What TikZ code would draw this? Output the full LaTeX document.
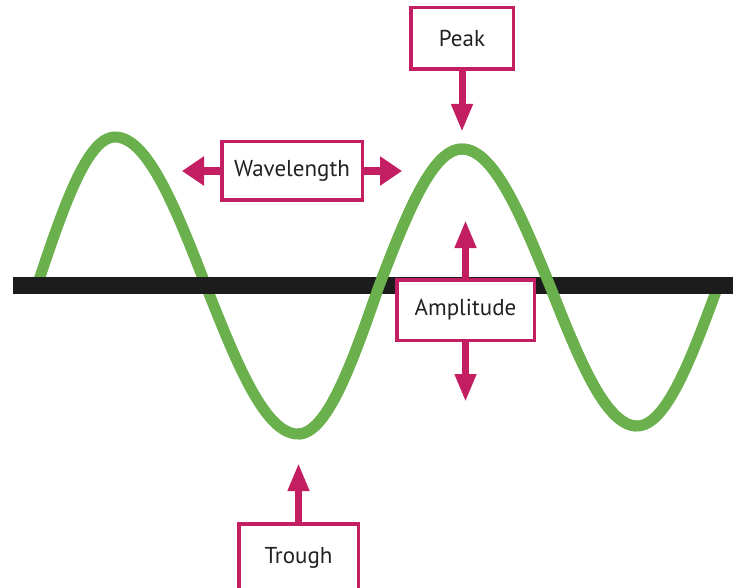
\documentclass[tikz,border=0pt]{standalone}
\usepackage{fontspec}
\setmainfont{PT Sans}
\usetikzlibrary{arrows.meta}
\definecolor{wgreen}{RGB}{106,176,76}
\definecolor{mag}{RGB}{196,30,98}
\definecolor{barblack}{RGB}{28,28,28}
\definecolor{txt}{RGB}{34,34,34}
\begin{document}
\begin{tikzpicture}[x=1pt,y=-1pt,
  lbl/.style={draw=mag, line width=3.5pt, fill=white, rectangle, inner sep=0pt,
    font=\fontsize{23}{26}\selectfont, text=txt},
  varrow/.style={draw=mag, line width=7pt, -{Triangle[length=28pt,width=20pt]}},
  harrow/.style={draw=mag, line width=8pt, -{Triangle[length=22pt,width=28pt]}},
  wave/.style={draw=wgreen, line width=11pt, line join=round}]
\useasboundingbox (0,0) rectangle (733,588);
\clip (0,0) rectangle (733,588);
% wave (full), built from quarter waves
\draw[wave] plot[domain=0:90, samples=30] ({37+\x/90*78},{286-149*sin(\x)})
  -- plot[domain=90:180, samples=30] ({115+(\x-90)/90*91},{286-149*sin(\x)})
  -- plot[domain=0:90, samples=30] ({206+\x/90*92},{286+148*sin(\x)})
  -- plot[domain=90:180, samples=30] ({298+(\x-90)/90*81},{286+148*sin(\x)})
  -- plot[domain=0:90, samples=30] ({379+\x/90*83},{286-137*sin(\x)})
  -- plot[domain=90:180, samples=30] ({462+(\x-90)/90*88},{286-137*sin(\x)})
  -- plot[domain=0:90, samples=30] ({550+\x/90*87},{286+140*sin(\x)})
  -- plot[domain=90:180, samples=30] ({637+(\x-90)/90*81},{286+140*sin(\x)});
% axis bar
\fill[barblack] (13,277) rectangle (733,294);
% wave parts passing over the bar
\draw[wave] plot[domain=90:180, samples=30] ({298+(\x-90)/90*81},{286+148*sin(\x)})
  -- plot[domain=0:90, samples=30] ({379+\x/90*83},{286-137*sin(\x)})
  -- plot[domain=90:180, samples=30] ({462+(\x-90)/90*88},{286-137*sin(\x)})
  -- plot[domain=0:90, samples=30] ({550+\x/90*87},{286+140*sin(\x)});
% arrow tips
\coordinate (peaktip) at (462,132);
\coordinate (wlL) at (182,171);
\coordinate (wlR) at (402,171);
\coordinate (ampU) at (465.5,220);
\coordinate (ampD) at (465.5,402);
\coordinate (troughtip) at (298.5,463);
% labels
\node[lbl, minimum width=102.5pt, minimum height=61.5pt] (peak) at (462,38.5) {Peak};
\node[lbl, minimum width=140.5pt, minimum height=58.5pt] (wl) at (292,171) {Wavelength};
\node[lbl, minimum width=137.5pt, minimum height=60.5pt] (amp) at (465.5,310) {Amplitude};
\node[lbl, minimum width=119.5pt, minimum height=68.5pt] (trough) at (298.5,558) {Trough};
% arrows
\draw[varrow] (peak.south) -- (peaktip);
\draw[harrow] (wl.west) -- (wlL);
\draw[harrow] (wl.east) -- (wlR);
\draw[varrow] (amp.north) -- (ampU);
\draw[varrow] (amp.south) -- (ampD);
\draw[varrow] (trough.north) -- (troughtip);
\end{tikzpicture}
\end{document}
